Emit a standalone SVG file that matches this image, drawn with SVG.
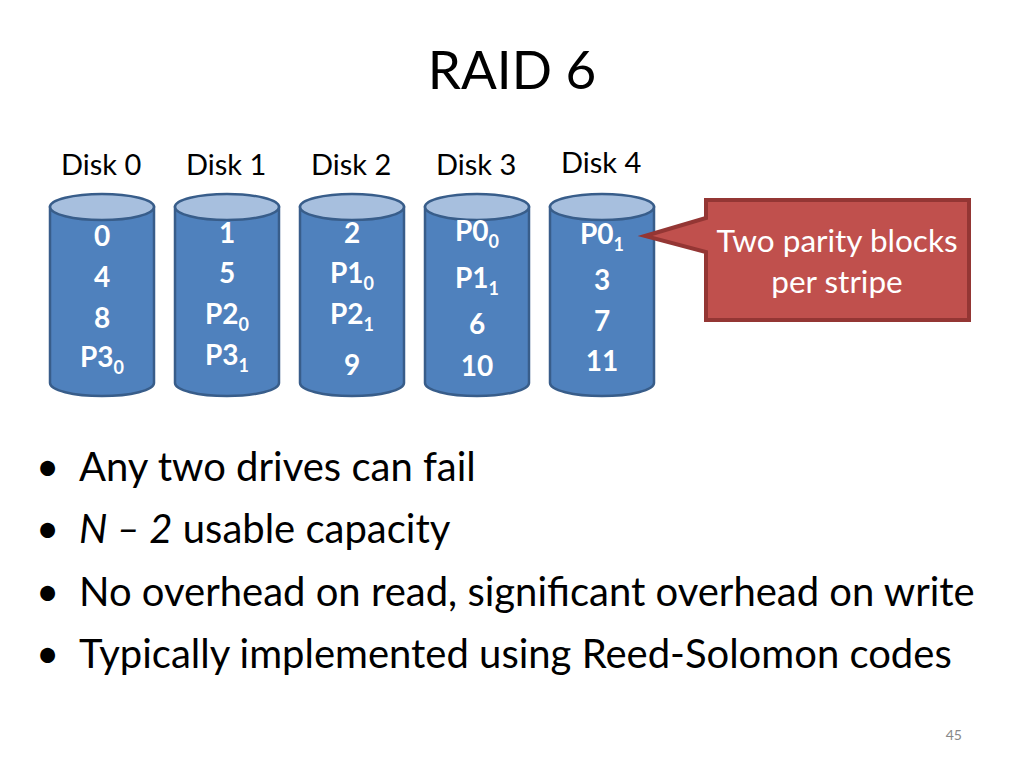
<svg xmlns="http://www.w3.org/2000/svg" width="1024" height="768" viewBox="0 0 1024 768">
<style>
text{font-family:Lato,"Open Sans","Liberation Sans",sans-serif}
.t{font-size:53px;fill:#000}
.lbl{font-size:29px;fill:#000}
.d{font-size:28px;font-weight:bold;fill:#fff;text-anchor:middle}
.s{font-size:18px}
.b{font-size:40px;fill:#000}
.body{fill:#4f81bd;stroke:#385d8a;stroke-width:2.5}
.top{fill:#a7bfde;stroke:#385d8a;stroke-width:2.5}
</style>
<rect width="1024" height="768" fill="#fff"/>
<text class="t" x="512" y="89" text-anchor="middle">RAID 6</text>
<g id="labels">
<text class="lbl" x="61" y="175">Disk 0</text>
<text class="lbl" x="186" y="175">Disk 1</text>
<text class="lbl" x="311" y="175">Disk 2</text>
<text class="lbl" x="436" y="175">Disk 3</text>
<text class="lbl" x="561" y="173">Disk 4</text>
</g>
<defs>
<g id="cyl">
<path class="body" d="M-52,0 V176 A52,13 0 0 0 52,176 V0 Z"/>
<ellipse class="top" cx="0" cy="0" rx="52" ry="13"/>
</g>
</defs>
<g id="disk0"><use href="#cyl" x="102" y="207"/>
<text class="d" x="102" y="246">0</text><text class="d" x="102" y="287">4</text><text class="d" x="102" y="328">8</text><text class="d" x="102" y="367">P3<tspan class="s" dy="7">0</tspan></text></g>
<g id="disk1"><use href="#cyl" x="227" y="207"/>
<text class="d" x="227" y="243">1</text><text class="d" x="227" y="283">5</text><text class="d" x="227" y="324">P2<tspan class="s" dy="7">0</tspan></text><text class="d" x="227" y="365">P3<tspan class="s" dy="7">1</tspan></text></g>
<g id="disk2"><use href="#cyl" x="352" y="207"/>
<text class="d" x="352" y="243">2</text><text class="d" x="352" y="283">P1<tspan class="s" dy="7">0</tspan></text><text class="d" x="352" y="324">P2<tspan class="s" dy="7">1</tspan></text><text class="d" x="352" y="375">9</text></g>
<g id="disk3"><use href="#cyl" x="477" y="207"/>
<text class="d" x="477" y="241">P0<tspan class="s" dy="7">0</tspan></text><text class="d" x="477" y="288">P1<tspan class="s" dy="7">1</tspan></text><text class="d" x="477" y="334">6</text><text class="d" x="477" y="376">10</text></g>
<g id="disk4"><use href="#cyl" x="602" y="207"/>
<text class="d" x="602" y="244">P0<tspan class="s" dy="7">1</tspan></text><text class="d" x="602" y="290">3</text><text class="d" x="602" y="331">7</text><text class="d" x="602" y="371">11</text></g>
<g id="callout">
<path d="M706,200 H969 V320 H706 V252 L645,236 L706,218 Z" fill="#c0504d" stroke="#943634" stroke-width="4" stroke-linejoin="miter"/>
<text x="837" y="252" font-size="31.5" fill="#fff" text-anchor="middle">Two parity blocks</text>
<text x="837" y="293" font-size="31.5" fill="#fff" text-anchor="middle">per stripe</text>
</g>
<g id="bullets">
<text class="b" x="36" y="481">•</text><text class="b" x="79" y="481">Any two drives can fail</text>
<text class="b" x="36" y="543">•</text><text class="b" x="79" y="543"><tspan font-style="italic">N – 2</tspan> usable capacity</text>
<text class="b" x="36" y="606">•</text><text class="b" x="79" y="606">No overhead on read, significant overhead on write</text>
<text class="b" x="36" y="668">•</text><text class="b" x="79" y="668">Typically implemented using Reed-Solomon codes</text>
</g>
<text x="962" y="740" font-size="14" fill="#888" text-anchor="end">45</text>
</svg>
